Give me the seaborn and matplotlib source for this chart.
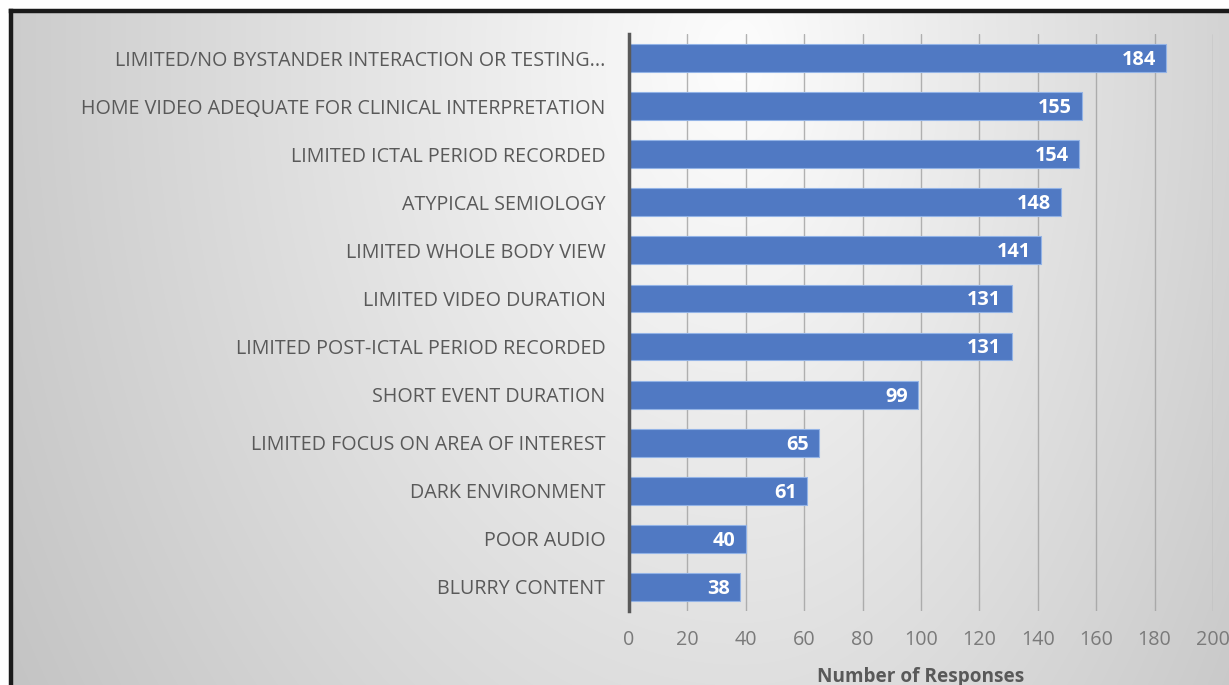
import numpy as np
import pandas as pd
import matplotlib
matplotlib.use("Agg")
import matplotlib.pyplot as plt
import seaborn as sns

categories = [
    "LIMITED/NO BYSTANDER INTERACTION OR TESTING...",
    "HOME VIDEO ADEQUATE FOR CLINICAL INTERPRETATION",
    "LIMITED ICTAL PERIOD RECORDED",
    "ATYPICAL SEMIOLOGY",
    "LIMITED WHOLE BODY VIEW",
    "LIMITED VIDEO DURATION",
    "LIMITED POST-ICTAL PERIOD RECORDED",
    "SHORT EVENT DURATION",
    "LIMITED FOCUS ON AREA OF INTEREST",
    "DARK ENVIRONMENT",
    "POOR AUDIO",
    "BLURRY CONTENT",
]
responses = [184, 155, 154, 148, 141, 131, 131, 99, 65, 61, 40, 38]
x_ticks = list(range(0, 201, 20))

df = pd.DataFrame({"category": categories, "responses": responses})

sns.set_theme(style="white")
plt.rcParams["font.family"] = ["Open Sans", "DejaVu Sans"]

fig = plt.figure(figsize=(12.29, 6.85), dpi=100)

# gradient background (light centre near top, greyer toward edges)
bg = fig.add_axes([0, 0, 1, 1], zorder=-10)
W, H = 1229, 685
xx, yy = np.meshgrid(np.arange(W), np.arange(H))
cx, cy = 740, 60
rx = np.where(xx < cx, 720, 560)
d = np.sqrt(((xx - cx) / rx) ** 2 + ((yy - cy) / 1000) ** 2)
val = np.clip(253 - 48 * d, 194, 255) / 255
bg.imshow(np.dstack([val, val, val]), aspect="auto",
          extent=[0, 1, 0, 1], origin="upper")
bg.axis("off")

# cropped dark frame (top and left only)
bg.plot([11 / W, 11 / W], [0, 1 - 11 / H], color="#1a1a1a", lw=3.2,
        solid_capstyle="projecting", transform=bg.transAxes, clip_on=False)
bg.plot([11 / W, 1], [1 - 11 / H, 1 - 11 / H], color="#1a1a1a", lw=3.2,
        solid_capstyle="projecting", transform=bg.transAxes, clip_on=False)
bg.fill_between([0, 1], 1 - 9 / H, 1, color="white", transform=bg.transAxes)
bg.fill_between([0, 9 / W], 0, 1, color="white", transform=bg.transAxes)
bg.set_xlim(0, 1)
bg.set_ylim(0, 1)

ax = fig.add_axes([629 / W, 1 - 611 / H, 584 / W, 577 / H])
ax.patch.set_alpha(0)

sns.barplot(data=df, y="category", x="responses", orient="h", ax=ax,
            color="#5079c3", saturation=1, width=0.58,
            edgecolor="#93b3e6", linewidth=0.8, zorder=3)

for i, v in enumerate(responses):
    ax.text(v - 3.5, i + 0.04, str(v), ha="right", va="center", color="white",
            fontsize=14.3, fontweight="bold", zorder=5)

ax.set_xlim(0, 200)
ax.set_xticks(x_ticks)
ax.set_xlabel("Number of Responses", fontsize=13.7, fontweight="bold",
              color="#595959", labelpad=12)
ax.set_ylabel("")
ax.tick_params(axis="y", length=0, pad=17, labelsize=14.2, labelcolor="#595959")
ax.tick_params(axis="x", length=0, pad=14, labelsize=14.2, labelcolor="#7a7a7a")

ax.grid(axis="x", color="#a0a0a0", linewidth=1, alpha=0.8, zorder=0)
ax.set_axisbelow(True)
for s in ["top", "right", "bottom"]:
    ax.spines[s].set_visible(False)
ax.spines["left"].set_color("#595959")
ax.spines["left"].set_linewidth(2.5)
ax.spines["left"].set_zorder(6)

fig.savefig("out.png", dpi=100)
